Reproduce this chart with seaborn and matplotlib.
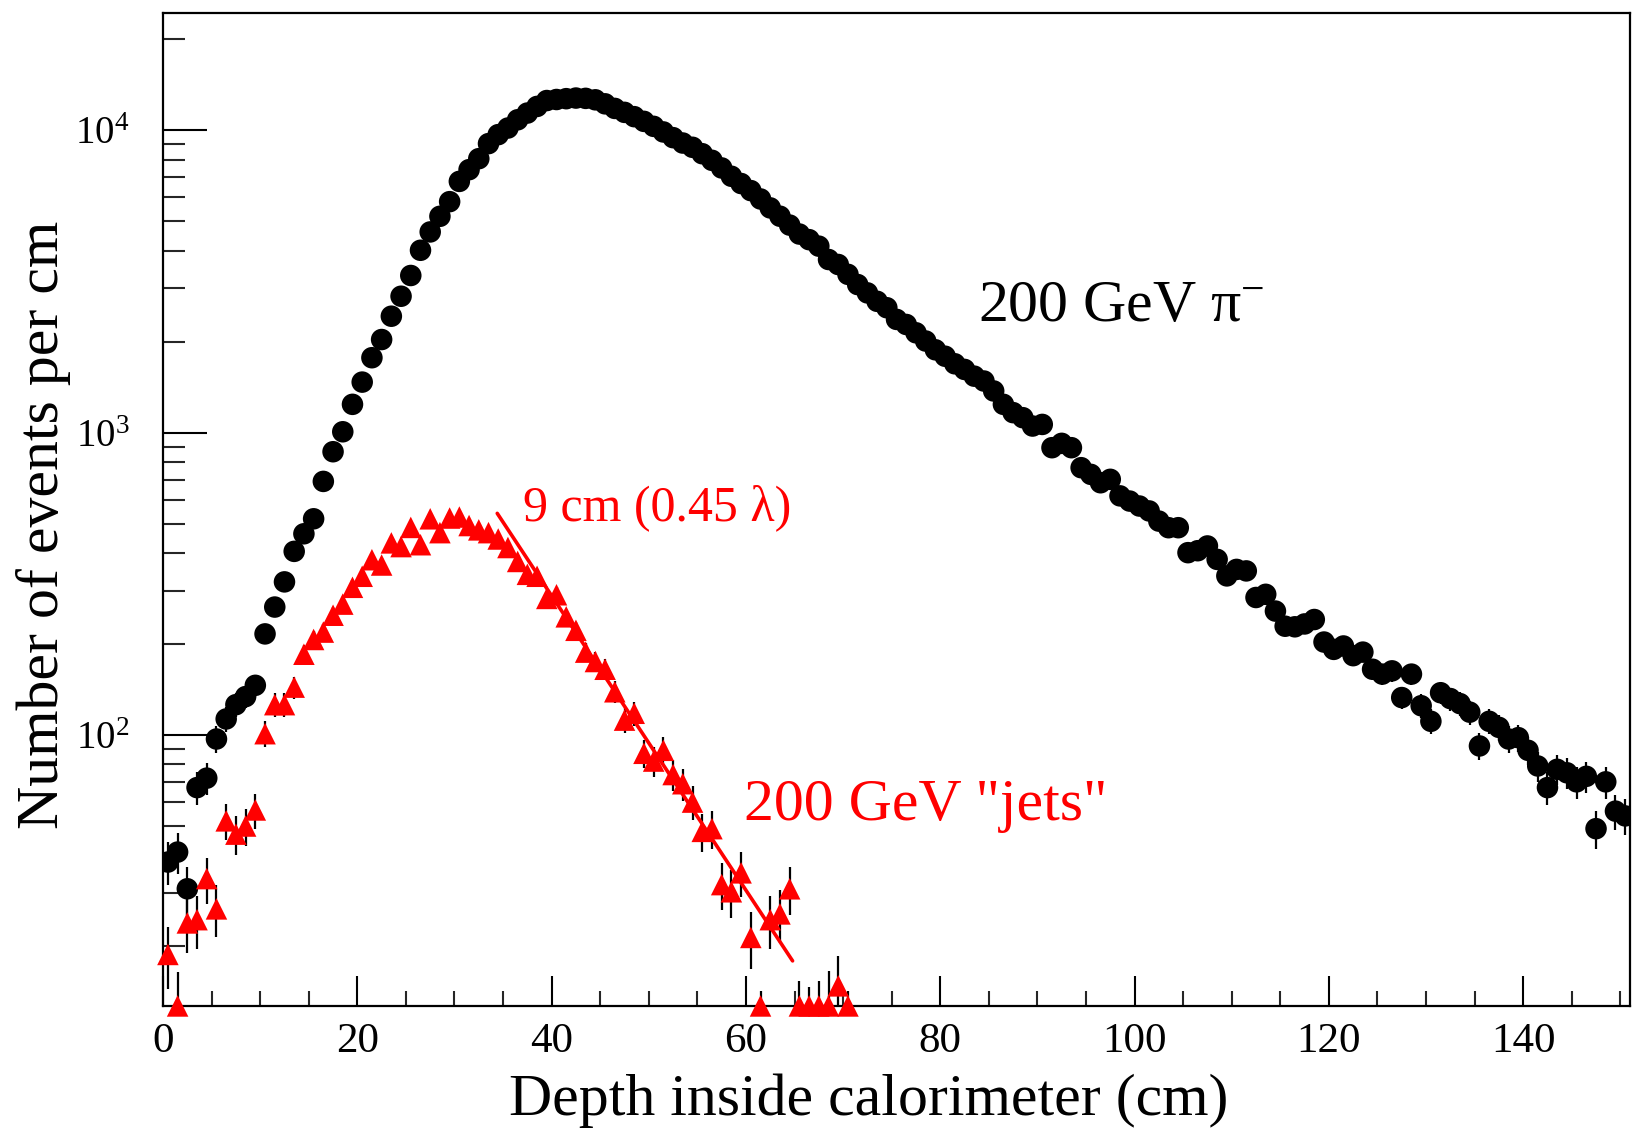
import numpy as np
import pandas as pd
import matplotlib
matplotlib.use("Agg")
import matplotlib.pyplot as plt
import seaborn as sns
from matplotlib.ticker import LogLocator, LogFormatterMathtext, MultipleLocator, NullFormatter

# ---------------- data ----------------
depth_pion = np.arange(0.5, 151.0, 1.0)
counts_pion = [
    38, 41, 31, 67, 72, 97, 113, 126, 134, 146,
    216, 265, 321, 405, 463, 519, 690, 865, 1007, 1241,
    1470, 1770, 2033, 2428, 2827, 3311, 4012, 4614, 5197, 5810,
    6780, 7413, 8060, 9040, 9680, 10180, 10840, 11410, 12000, 12550,
    12650, 12730, 12790, 12760, 12620, 12240, 11820, 11470, 11100, 10710,
    10310, 9880, 9460, 9080, 8790, 8370, 7960, 7510, 7050, 6670,
    6320, 5930, 5540, 5200, 4860, 4540, 4350, 4140, 3740, 3600,
    3340, 3090, 2900, 2720, 2590, 2370, 2280, 2140, 2010, 1880,
    1790, 1690, 1619, 1538, 1482, 1374, 1241, 1165, 1121, 1052,
    1065, 892, 922, 892, 766, 728, 683, 701, 618, 594,
    572, 551, 510, 485, 485, 401, 407, 422, 381, 336,
    353, 349, 285, 292, 257, 229, 228, 233, 241, 203,
    192, 197, 183, 188, 165, 159, 163, 133, 159, 125,
    111, 138, 132, 127, 119, 92, 111, 106, 97, 98,
    89, 79, 67, 77, 75, 70, 73, 49, 70, 56,
    54,
]
err_pion = [
    6.2, 6.4, 5.6, 8.2, 8.5, 9.8, 10.6, 11.2, 11.6, 12.1,
    14.7, 16.3, 17.9, 20.1, 21.5, 22.8, 26.3, 29.4, 31.7, 35.2,
    38.3, 42.1, 45.1, 49.3, 53.2, 57.5, 63.3, 67.9, 72.1, 76.2,
    82.3, 86.1, 89.8, 95.1, 98.4, 100.9, 104.1, 106.8, 109.5, 112.0,
    112.5, 112.8, 113.1, 113.0, 112.3, 110.6, 108.7, 107.1, 105.4, 103.5,
    101.5, 99.4, 97.3, 95.3, 93.8, 91.5, 89.2, 86.7, 84.0, 81.7,
    79.5, 77.0, 74.4, 72.1, 69.7, 67.4, 66.0, 64.3, 61.2, 60.0,
    57.8, 55.6, 53.9, 52.2, 50.9, 48.7, 47.7, 46.3, 44.8, 43.4,
    42.3, 41.1, 40.2, 39.2, 38.5, 37.1, 35.2, 34.1, 33.5, 32.4,
    32.6, 29.9, 30.4, 29.9, 27.7, 27.0, 26.1, 26.5, 24.9, 24.4,
    23.9, 23.5, 22.6, 22.0, 22.0, 20.0, 20.2, 20.5, 19.5, 18.3,
    18.8, 18.7, 16.9, 17.1, 16.0, 15.1, 15.1, 15.3, 15.5, 14.2,
    13.9, 14.0, 13.5, 13.7, 12.8, 12.6, 12.8, 11.5, 12.6, 11.2,
    10.5, 11.7, 11.5, 11.3, 10.9, 9.6, 10.5, 10.3, 9.8, 9.9,
    9.4, 8.9, 8.2, 8.8, 8.7, 8.4, 8.5, 7.0, 8.4, 7.5,
    7.3,
]

depth_jets = np.arange(0.5, 71.0, 1.0)
counts_jets = [
    18.8, 12.7, 23.9, 24.5, 33.5, 26.6, 52, 47, 50, 56.5,
    101, 126, 126, 144, 185, 207, 219, 249, 271, 308,
    335, 380, 365, 432, 420, 486, 426, 519, 467, 522,
    526, 493, 477, 467, 445, 417, 375, 340, 335, 283,
    291, 246, 222, 188, 175, 165, 139, 112, 118, 87,
    82, 89, 74, 69, 60, 48, 49, 32, 30.3, 35,
    21.4, 12.7, 24.5, 25.6, 31, 12.7, 12.7, 12.7, 12.7, 14.8,
    12.7,
]
err_jets = [
    4.3, 3.7, 4.9, 4.9, 5.8, 5.2, 7.2, 6.9, 7.1, 7.5,
    10.0, 11.2, 11.2, 12.0, 13.6, 14.4, 14.8, 15.8, 16.5, 17.5,
    18.3, 19.5, 19.1, 20.8, 20.5, 22.0, 20.6, 22.8, 21.6, 22.8,
    22.9, 22.2, 21.8, 21.6, 21.1, 20.4, 19.4, 18.4, 18.3, 16.8,
    17.1, 15.7, 14.9, 13.7, 13.2, 12.8, 11.8, 10.6, 10.9, 9.3,
    9.1, 9.4, 8.6, 8.3, 7.7, 6.9, 7.0, 5.7, 5.5, 5.9,
    4.6, 1.5, 4.9, 5.1, 5.6, 2.7, 2.0, 2.7, 3.9, 3.8,
    1.5,
]

# exponential fit (9 cm slope) end points
fit_depth = [34.4, 64.8]
fit_counts = [541, 17.9]

x_ticks = [0, 20, 40, 60, 80, 100, 120, 140]

# ---------------- style ----------------
sns.set_theme(style="ticks")
plt.rcParams["font.family"] = ["Liberation Serif", "DejaVu Serif"]
plt.rcParams["mathtext.fontset"] = "custom"
plt.rcParams["mathtext.rm"] = "Liberation Serif"
plt.rcParams["mathtext.it"] = "Liberation Serif:italic"

fig = plt.figure(figsize=(16.32, 11.35), dpi=100)
ax = fig.add_axes([0.0999, 0.1137, 0.8989, 0.8751])

df_pi = pd.DataFrame({"depth": depth_pion, "counts": counts_pion, "err": err_pion})
df_jet = pd.DataFrame({"depth": depth_jets, "counts": counts_jets, "err": err_jets})

ax.set_yscale("log")

# error bars (black, no caps)
ax.errorbar(df_pi["depth"], df_pi["counts"], yerr=df_pi["err"], fmt="none",
            ecolor="black", elinewidth=1.6, capsize=0, zorder=2)
ax.errorbar(df_jet["depth"], df_jet["counts"], yerr=df_jet["err"], fmt="none",
            ecolor="black", elinewidth=1.6, capsize=0, zorder=2)

sns.scatterplot(data=df_pi, x="depth", y="counts", marker="o", s=240,
                color="black", edgecolor="none", linewidth=0, ax=ax,
                zorder=3, legend=False)
sns.scatterplot(data=df_jet, x="depth", y="counts", marker="^", s=240,
                color="#ff0000", edgecolor="none", linewidth=0, ax=ax,
                zorder=4, legend=False)
ax.collections[-1].set_clip_on(False)

sns.lineplot(x=fit_depth, y=fit_counts, color="#ff0000", linewidth=2.6,
             ax=ax, zorder=5)

ax.set_xlim(0, 151)
ax.set_ylim(12.7, 24500)

# ticks
ax.xaxis.set_major_locator(plt.FixedLocator(x_ticks))
ax.xaxis.set_minor_locator(MultipleLocator(5))
ax.yaxis.set_major_locator(LogLocator(base=10, numticks=10))
ax.yaxis.set_minor_locator(LogLocator(base=10, subs=np.arange(2, 10), numticks=20))
ax.yaxis.set_major_formatter(LogFormatterMathtext())
ax.yaxis.set_minor_formatter(NullFormatter())

ax.tick_params(axis="x", which="major", direction="in", length=21.5, width=1.5,
               labelsize=31, pad=12, colors="black")
ax.tick_params(axis="x", which="minor", direction="in", length=10.8, width=1.5)
ax.tick_params(axis="y", which="major", direction="in", length=31.7, width=1.5,
               labelsize=28, pad=24, colors="black")
ax.tick_params(axis="y", which="minor", direction="in", length=15.8, width=1.5)
ax.tick_params(top=False, right=False, which="both")

for side in ["left", "right", "top", "bottom"]:
    ax.spines[side].set_visible(True)
    ax.spines[side].set_linewidth(1.6)
    ax.spines[side].set_color("black")

ax.set_xlabel("Depth inside calorimeter (cm)", fontsize=43, labelpad=9, color="black")
ax.set_ylabel("Number of events per cm", fontsize=43, labelpad=3, color="black")
ax.xaxis.label.set_x(0.481)
ax.yaxis.label.set_y(0.484)

# annotations
ax.text(83.9, 2610, "200 GeV π$^{-}$", fontsize=43, color="black",
        ha="left", va="center")
ax.text(37.0, 566, "9 cm (0.45 λ)", fontsize=36, color="#ff0000",
        ha="left", va="center")
ax.text(59.8, 58.2, '200 GeV "jets"', fontsize=43, color="#ff0000",
        ha="left", va="center")

ax.set_facecolor("white")
fig.patch.set_facecolor("white")
fig.savefig("out.png", dpi=100)
